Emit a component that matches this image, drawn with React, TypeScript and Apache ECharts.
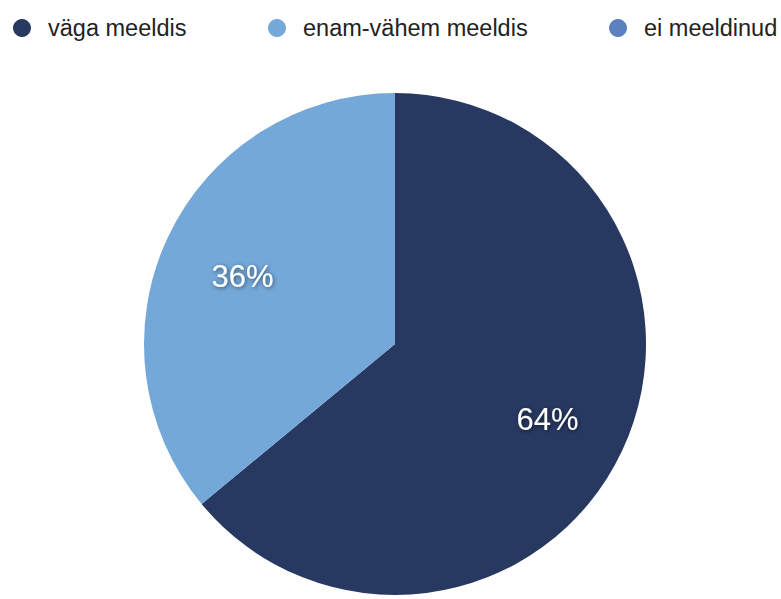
import React, { useEffect, useRef } from "react";
import * as echarts from "echarts";

const categories = ["väga meeldis", "enam-vähem meeldis", "ei meeldinud"];
const values = [64, 36, 0];
const colors = ["#273861", "#74a8d9", "#5b82bf"];

const legendLefts = [13, 268, 609];
const FONT = "'Liberation Sans', Arial, Helvetica, sans-serif";

export default function App() {
  const ref = useRef<HTMLDivElement>(null);

  useEffect(() => {
    if (!ref.current) return;
    const chart = echarts.init(ref.current, null, { renderer: "svg" });

    const mainData = categories.map((name, i) => ({
      name,
      value: values[i],
      itemStyle: { color: colors[i] },
    }));

    const labelData = categories.map((name, i) => ({
      name,
      value: values[i],
      itemStyle: { color: "rgba(0,0,0,0)" },
      label: { show: values[i] > 0 },
    }));

    const legends = categories.map((name, i) => ({
      left: legendLefts[i],
      top: 16,
      padding: 0,
      orient: "horizontal" as const,
      icon: "circle",
      itemWidth: 18,
      itemHeight: 18,
      selectedMode: false,
      data: [{ name, itemStyle: { color: colors[i] } }],
      textStyle: {
        fontFamily: FONT,
        fontSize: 23.5,
        color: "#222222",
        lineHeight: 24,
        padding: [0, 0, 0, 12],
      },
    }));

    chart.setOption({
      animation: false,
      backgroundColor: "#ffffff",
      legend: legends,
      series: [
        {
          type: "pie",
          center: [395, 344],
          radius: 251,
          startAngle: 90,
          clockwise: true,
          silent: true,
          label: { show: false },
          labelLine: { show: false },
          itemStyle: { borderWidth: 0 },
          data: mainData,
        },
        {
          type: "pie",
          center: [395, 344],
          radius: [80, 251],
          startAngle: 90,
          clockwise: true,
          silent: true,
          avoidLabelOverlap: false,
          labelLine: { show: false },
          labelLayout: { dy: 4 },
          itemStyle: { borderWidth: 0 },
          label: {
            show: true,
            position: "inside",
            formatter: "{d}%",
            fontFamily: FONT,
            fontSize: 31,
            color: "#ffffff",
            textShadowColor: "rgba(0,0,0,0.55)",
            textShadowBlur: 4,
            textShadowOffsetX: 1,
            textShadowOffsetY: 1,
          },
          data: labelData,
        },
      ],
    });

    return () => chart.dispose();
  }, []);

  return (
    <div
      ref={ref}
      style={{ position: "fixed", left: 0, top: 0, width: 781, height: 599 }}
    />
  );
}
